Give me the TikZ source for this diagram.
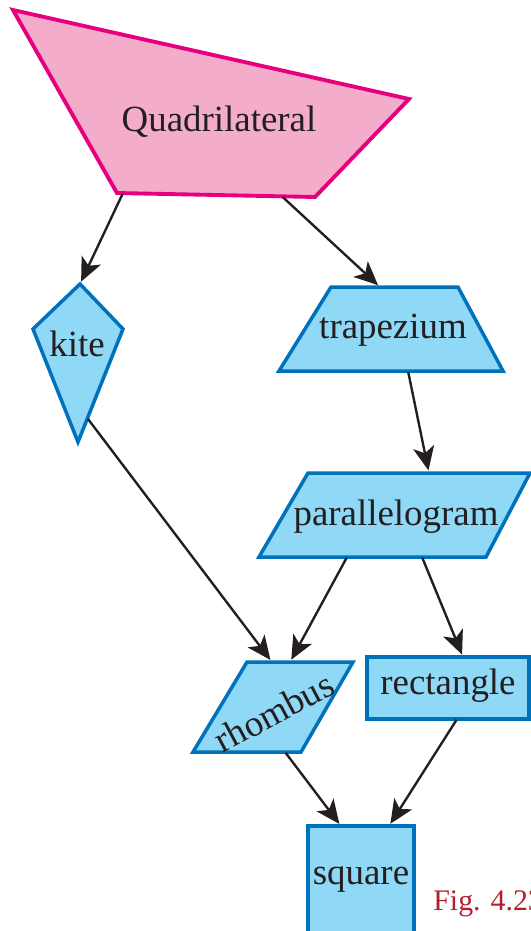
\documentclass[tikz,border=0pt]{standalone}
\usepackage{fontspec}
\setmainfont{Liberation Serif}
\usepackage{xcolor}
\usetikzlibrary{arrows.meta,calc}

\definecolor{quadfill}{HTML}{F4ACCB}
\definecolor{quadline}{HTML}{E6007E}
\definecolor{boxfill}{HTML}{8FD8F6}
\definecolor{boxline}{HTML}{0072BC}
\definecolor{inkdark}{HTML}{231F20}
\definecolor{figred}{HTML}{B3202C}

\begin{document}
\begin{tikzpicture}[x=0.02cm, y=-0.02cm,
    font=\fontsize{21}{24}\selectfont, text=inkdark,
    quadshape/.style={draw=quadline, fill=quadfill, line width=2.2pt},
    boxshape/.style={draw=boxline, fill=boxfill, line width=2pt},
    link/.style={draw=inkdark, line width=1.35pt,
      -{Stealth[length=13.5pt,width=12pt,inset=3.5pt]},
      shorten >=1.5pt, shorten <=0.5pt}]
    \useasboundingbox (0,0) rectangle (531,931);
    % ---- top : the general quadrilateral
    \draw[quadshape] (13,10) coordinate (q1) -- (409,99) coordinate (q2)
      -- (315,197) coordinate (q3)
      -- coordinate[pos=0.167] (q-trap) coordinate[pos=0.97] (q-kite)
         (117,193) coordinate (q4) -- cycle;
    \node (quad) at (219,122) {Quadrilateral};
    % ---- left branch : kite
    \draw[boxshape] (80,284) coordinate (k1) -- (123,329) coordinate (k2)
      -- coordinate[pos=0.79] (k-out) (78,442) coordinate (k3)
      -- (33,329) coordinate (k4) -- cycle;
    \node (kite) at (77,344) {kite};
    % ---- right branch : trapezium, parallelogram
    \draw[boxshape] (331,287) -- coordinate[pos=0.386] (t-in) (458,287)
      -- (503,371) -- coordinate[pos=0.424] (t-out) (279,371) -- cycle;
    \node (trap) at (393,330) {trapezium};
    \draw[boxshape] (308,473) -- coordinate[pos=0.545] (p-in) (530,473)
      -- (486,557) -- coordinate[pos=0.282] (p-rect) coordinate[pos=0.612] (p-rhom)
         (259,557) -- cycle;
    \node (para) at (396,517) {parallelogram};
    % ---- third row : rhombus, rectangle
    \draw[boxshape] (247,662) -- coordinate[pos=0.236] (r-kite) coordinate[pos=0.406] (r-para)
      (353,662) -- (301,752) -- coordinate[pos=0.148] (r-out) (193,752) -- cycle;
    \node[rotate=28] (rhom) at (274,712) {rhombus};
    \draw[boxshape] (367,657) -- coordinate[pos=0.593] (c-in) (529,657)
      -- (529,719) -- coordinate[pos=0.444] (c-out) (367,719) -- cycle;
    \node (rect) at (448,686) {rectangle};
    % ---- bottom : square
    \draw[boxshape] (308,826) -- coordinate[pos=0.311] (s-rhom) coordinate[pos=0.764] (s-rect)
      (414,826) -- (414,945) -- (308,945) -- cycle;
    \node (sq) at (361,880) {square};
    \node[anchor=base west, inner sep=0pt, text=figred, font=\fontsize{17}{20}\selectfont]
      (fig) at (433,910) {Fig. 4.23};
    % ---- arrows
    \foreach \u/\v in {q-kite/k1,q-trap/t-in,t-out/p-in,k-out/r-kite,
                       p-rhom/r-para,p-rect/c-in,r-out/s-rhom,c-out/s-rect}
      { \draw[link] (\u) -- (\v); }
\end{tikzpicture}
\end{document}
